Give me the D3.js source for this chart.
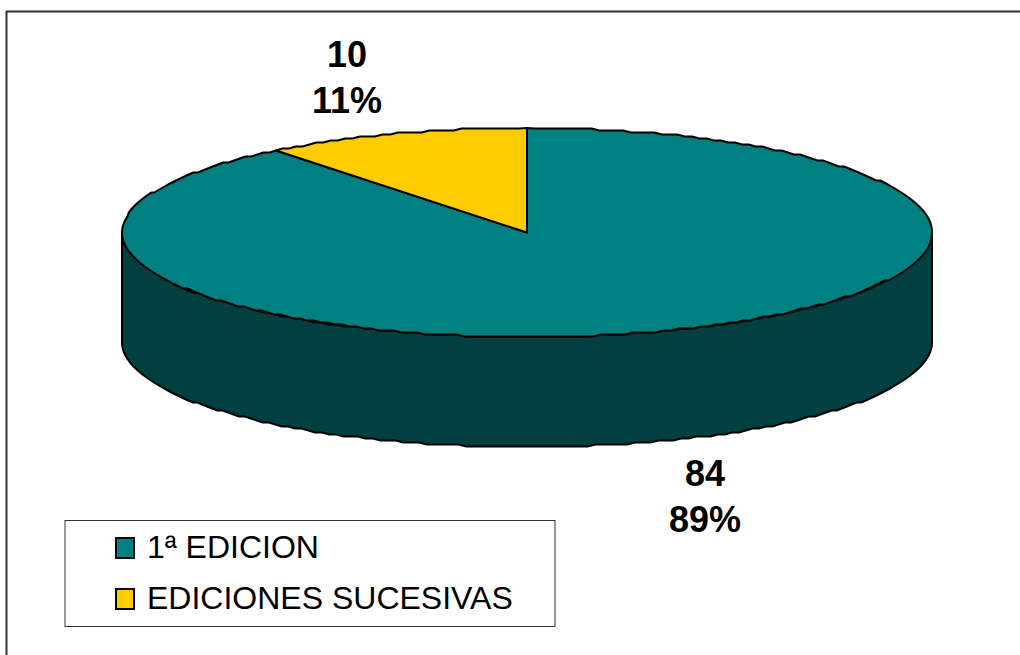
<!DOCTYPE html>
<html>
<head>
<meta charset="utf-8">
<script src="https://cdn.jsdelivr.net/npm/d3@7"></script>
<style>
  html, body { margin: 0; padding: 0; background: #fff; overflow: hidden; }
  text { font-family: "Liberation Sans", Arial, sans-serif; fill: #000; }
</style>
</head>
<body>
<div id="plot"></div>
<script>
const categories = ["1ª EDICION", "EDICIONES SUCESIVAS"];
const values = [84, 10];
const percents = ["89%", "11%"];
const topColors = ["#008080", "#ffcc00"];
const sideColor = "#004040";

const width = 1020,
  height = 655;

const cx = 527,
  cy = 232.5,
  rx = 405,
  ry = 104.5,
  depth = 110;

const svg = d3.select("div#plot")
  .append("svg")
  .attr("width", width)
  .attr("height", height);

// outer frame, only the top and left sides are in the picture
svg.append("path")
  .attr("d", `M6.5,655V11.5H1020`)
  .attr("fill", "none")
  .attr("stroke", "#333")
  .attr("stroke-width", 2);

// first slice runs clockwise from 12 o'clock
const slices = d3.pie().sort(null).value(d => d)(values);

// unit circle to screen, with the tilt of the disc
const px = d3.scaleLinear().domain([-1, 1]).range([cx - rx, cx + rx]);
const py = d3.scaleLinear().domain([-1, 1]).range([cy - ry, cy + ry]);

// the rim in the original steps like a low-res polygon, so snap y to a grid
const grid = 2;
const snap = v => Math.round(v / grid) * grid;

function rimPoints(a0, a1, dy) {
  const n = Math.max(2, Math.round(Math.abs(a1 - a0) * 50));
  return d3.range(0, n + 1).map(function(i) {
    const a = a0 + (a1 - a0) * i / n;
    const x = px(Math.sin(a));
    const y = py(-Math.cos(a)) + dy;
    if (i === 0 || i === n) return [x, y];
    return [x, snap(y - 0.5) + 0.5];
  });
}

const line = d3.line();

// side wall: only the front half of the rim shows
const front = rimPoints(Math.PI / 2, Math.PI * 1.5, 0);
const frontLow = rimPoints(Math.PI * 1.5, Math.PI / 2, depth);
svg.append("path")
  .attr("d", line(front.concat(frontLow)) + "Z")
  .attr("fill", sideColor)
  .attr("stroke", "#000")
  .attr("stroke-width", 2)
  .attr("stroke-linejoin", "round");

// top face
svg.selectAll("path.slice")
  .data(slices)
  .join("path")
  .attr("class", "slice")
  .attr("d", function(d) {
    return line([[cx, cy]].concat(rimPoints(d.startAngle, d.endAngle, 0))) + "Z";
  })
  .attr("fill", (d, i) => topColors[i])
  .attr("stroke", "#000")
  .attr("stroke-width", 2)
  .attr("stroke-linejoin", "round");

// data labels
const labelPos = [[705, 486], [347, 67]];
slices.forEach(function(d, i) {
  svg.append("text")
    .attr("x", labelPos[i][0])
    .attr("y", labelPos[i][1])
    .attr("text-anchor", "middle")
    .style("font-size", "36px")
    .style("font-weight", "bold")
    .text(values[i]);
  svg.append("text")
    .attr("x", labelPos[i][0])
    .attr("y", labelPos[i][1] + 46)
    .attr("text-anchor", "middle")
    .style("font-size", "36px")
    .style("font-weight", "bold")
    .text(percents[i]);
});

// legend
const legend = svg.append("g");
legend.append("rect")
  .attr("x", 65)
  .attr("y", 520.5)
  .attr("width", 490)
  .attr("height", 106)
  .attr("fill", "#fff")
  .attr("stroke", "#333")
  .attr("stroke-width", 1);

const legendY = d3.scalePoint().domain(categories).range([548, 599]);

categories.forEach(function(c, i) {
  legend.append("rect")
    .attr("x", 116)
    .attr("y", legendY(c) - 10)
    .attr("width", 18)
    .attr("height", 20)
    .attr("fill", topColors[i])
    .attr("stroke", "#000")
    .attr("stroke-width", 2);
  legend.append("text")
    .attr("x", 147)
    .attr("y", legendY(c) + 10)
    .style("font-size", "32px")
    .text(c);
});
</script>
</body>
</html>
